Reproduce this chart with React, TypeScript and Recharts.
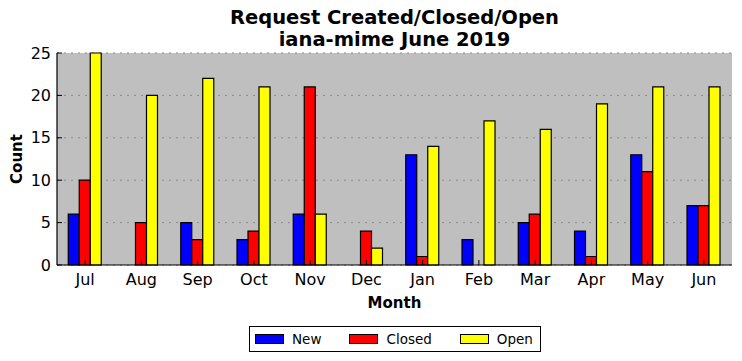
import React from 'react';
import { BarChart, Bar, XAxis, YAxis, CartesianGrid, Legend } from 'recharts';

const months = ['Jul', 'Aug', 'Sep', 'Oct', 'Nov', 'Dec', 'Jan', 'Feb', 'Mar', 'Apr', 'May', 'Jun'];
const newCounts = [6, 0, 5, 3, 6, 0, 13, 3, 5, 4, 13, 7];
const closedCounts = [10, 5, 3, 4, 21, 4, 1, 0, 6, 1, 11, 7];
const openCounts = [25, 20, 22, 21, 6, 2, 14, 17, 16, 19, 21, 21];
const yTicks = [0, 5, 10, 15, 20, 25];
const seriesNames = ['New', 'Closed', 'Open'];

const titleLines = ['Request Created/Closed/Open', 'iana-mime June 2019'];

const data = months.map((m, i) => ({
  month: m,
  New: newCounts[i],
  Closed: closedCounts[i],
  Open: openCounts[i],
}));

const FONT = '"DejaVu Sans", sans-serif';

const LegendBox = (props: any) => {
  const payload = [...(props.payload || [])].sort(
    (a: any, b: any) => seriesNames.indexOf(a.value) - seriesNames.indexOf(b.value)
  );
  return (
    <div
      style={{
        display: 'flex',
        alignItems: 'center',
        boxSizing: 'border-box',
        width: 292,
        height: 26,
        padding: '0 5px',
        border: '1px solid #000',
        background: '#fff',
        fontFamily: FONT,
        fontSize: 13.5,
        color: '#000',
      }}
    >
      {payload.map((p: any, i: number) => (
        <div key={i} style={{ display: 'flex', alignItems: 'center', marginRight: i < payload.length - 1 ? 28 : 0 }}>
          <span
            style={{
              display: 'inline-block',
              boxSizing: 'border-box',
              width: 29,
              height: 10,
              background: p.color,
              border: '1px solid #000',
              marginRight: 8,
            }}
          />
          <span>{p.value}</span>
        </div>
      ))}
    </div>
  );
};

const CountLabel = (props: any) => {
  const vb = props.viewBox || {};
  const cx = vb.x + 17;
  const cy = vb.y + vb.height / 2;
  return (
    <text
      x={cx}
      y={cy}
      transform={`rotate(-90 ${cx} ${cy})`}
      textAnchor="middle"
      dominantBaseline="central"
      fontFamily={FONT}
      fontSize={15}
      fontWeight="bold"
      fill="#000"
    >
      Count
    </text>
  );
};

export default function App() {
  return (
    <div style={{ position: 'absolute', left: 0, top: 0, width: 742, height: 361, background: '#fff', fontFamily: FONT }}>
      <div
        style={{
          position: 'absolute',
          left: 57,
          width: 675,
          top: 7,
          textAlign: 'center',
          fontFamily: FONT,
          fontWeight: 'bold',
          fontSize: 19.5,
          lineHeight: '22px',
          color: '#000',
        }}
      >
        {titleLines.map((t) => (
          <div key={t}>{t}</div>
        ))}
      </div>
      <BarChart
        width={742}
        height={361}
        data={data}
        margin={{ top: 53, right: 10, left: 0, bottom: 51 }}
        barCategoryGap="20%"
        barGap={0}
      >
        <CartesianGrid
          horizontal={true}
          vertical={false}
          fill="#bfbfbf"
          fillOpacity={1}
          stroke="#8a8a8a"
          strokeDasharray="2 5"
        />
        <XAxis
          dataKey="month"
          height={45}
          tickSize={-5}
          tickMargin={14}
          stroke="#000"
          axisLine={{ stroke: '#000', strokeWidth: 1.2 }}
          tickLine={{ stroke: '#000' }}
          tick={{ fill: '#000', fontSize: 16, fontFamily: FONT }}
          interval={0}
          label={{
            value: 'Month',
            position: 'insideBottom',
            offset: 2,
            fill: '#000',
            fontSize: 15,
            fontWeight: 'bold',
            fontFamily: FONT,
          }}
        />
        <XAxis
          xAxisId="top"
          dataKey="month"
          orientation="top"
          height={0}
          tick={false}
          tickSize={-5}
          interval={0}
          axisLine={{ stroke: '#000', strokeWidth: 1.2 }}
          tickLine={{ stroke: '#000' }}
        />
        <YAxis
          width={57}
          domain={[0, 25]}
          ticks={yTicks}
          tickSize={-5}
          tickMargin={11}
          axisLine={{ stroke: '#000', strokeWidth: 1.2 }}
          tickLine={{ stroke: '#000' }}
          tick={{ fill: '#000', fontSize: 16, fontFamily: FONT }}
          label={{ content: CountLabel }}
        />
        <YAxis
          yAxisId="right"
          orientation="right"
          width={0}
          domain={[0, 25]}
          ticks={yTicks}
          tick={false}
          tickSize={-5}
          axisLine={{ stroke: '#000', strokeWidth: 1.2 }}
          tickLine={{ stroke: '#000' }}
        />
        <Bar dataKey="New" fill="#0000ff" stroke="#000" strokeWidth={1.2} isAnimationActive={false} />
        <Bar dataKey="Closed" fill="#ff0000" stroke="#000" strokeWidth={1.2} isAnimationActive={false} />
        <Bar dataKey="Open" fill="#ffff00" stroke="#000" strokeWidth={1.2} isAnimationActive={false} />
        <Legend
          layout="horizontal"
          verticalAlign="middle"
          align="center"
          content={LegendBox}
          wrapperStyle={{ left: 249, top: 326, width: 292, height: 26 }}
        />
      </BarChart>
    </div>
  );
}
